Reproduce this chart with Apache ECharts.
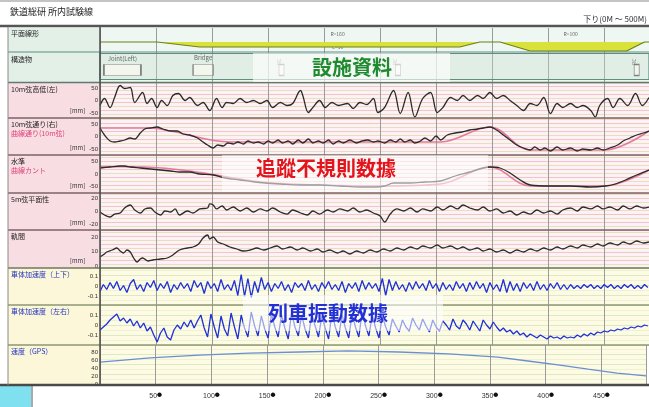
<!DOCTYPE html>
<html><head><meta charset="utf-8">
<script src="https://cdn.jsdelivr.net/npm/echarts@6/dist/echarts.min.js"></script>
<style>html,body{margin:0;padding:0;background:#fff}#c{width:649px;height:407px}</style>
</head><body><div id="c"></div>
<script>
// ================= DATA =================
// distance axis ticks (m)
const distTicks = [50,100,150,200,250,300,350,400,450];
// 平面線形 (curve offset indicator): [distance, value]
const curveAlign = [[0,0],[51,0],[89,-5],[321,-5],[339,0],[357,0],[384,-9],[470,-9],[486,0],[490,0]];
const curveLabels = [[212,'R=160','C=50'],[420,'R=100','C=105']];
// 構造物
const structures = [[20,'Joint(Left)','joint'],[92,'Bridge','bridge'],[162,'RC','rc'],[266,'RC','rc'],[479,'RC','rc']];
// 10m弦高低(左) [distance, mm]
const levelL = [[0,-20],[4,8],[9,-28],[13,12],[18,60],[22,48],[27,52],[31,-8],[38,32],[42,-12],[46,8],[51,-28],[55,0],[60,-20],[65,20],[70,28],[76,0],[80,12],[87,-20],[92,-8],[98,-40],[104,8],[109,-28],[113,-8],[119,-12],[125,8],[131,-8],[137,0],[143,-12],[149,0],[154,-28],[161,-8],[167,-20],[172,-12],[179,40],[181,20],[186,-48],[190,-28],[196,0],[201,-28],[207,-8],[213,-20],[221,-12],[226,-32],[232,-8],[238,-16],[244,8],[248,-48],[254,-28],[262,40],[268,-52],[275,32],[281,-66],[288,8],[295,32],[301,-48],[306,-28],[313,12],[319,0],[324,20],[330,0],[337,20],[342,8],[348,32],[354,8],[360,20],[366,0],[372,-20],[378,-40],[384,-12],[390,-20],[396,12],[402,-52],[408,-12],[413,-28],[420,-12],[426,-28],[431,-20],[438,-40],[442,-66],[446,-20],[453,8],[458,-28],[464,8],[471,-20],[478,28],[484,-20],[490,12]];
// 10m弦通り(右)
const alignR = [[0,34],[4,6],[9,-18],[13,-22],[18,-18],[22,-14],[27,-6],[31,-10],[36,14],[40,30],[45,34],[51,38],[56,30],[63,22],[69,22],[74,10],[80,6],[87,-6],[92,-22],[96,-34],[101,-46],[105,-34],[110,-38],[114,-26],[119,-30],[123,-22],[128,-30],[132,-18],[137,-26],[141,-22],[146,-30],[150,-18],[154,-26],[159,-14],[163,-26],[168,-18],[172,-30],[177,-14],[181,-26],[186,-10],[190,-26],[195,-18],[199,-26],[204,-14],[208,-30],[213,-18],[217,-26],[223,-14],[229,-26],[234,-18],[239,-14],[244,-22],[248,-18],[254,-26],[259,-14],[264,-22],[268,-10],[272,-22],[277,-14],[281,-26],[286,-18],[290,-6],[295,-18],[300,2],[304,-14],[310,6],[317,14],[323,18],[330,26],[337,30],[342,34],[348,38],[354,26],[360,6],[366,-14],[372,-34],[378,-46],[384,-54],[388,-42],[393,-54],[397,-46],[402,-58],[408,-42],[413,-54],[420,-46],[426,-58],[431,-50],[438,-54],[444,-46],[449,-54],[455,-46],[462,-34],[467,-18],[473,-6],[479,6],[485,14],[490,22]];
// 曲線通り(10m弦)
const alignCurve = [[0,34],[45,34],[63,22],[116,-22],[304,-22],[348,38],[384,-54],[451,-54],[490,22]];
// 水準
const crossLevel = [[0,24],[9,28],[18,32],[22,32],[27,28],[36,24],[45,20],[54,16],[63,12],[71,8],[80,8],[89,0],[101,-4],[112,-16],[125,-24],[138,-32],[147,-36],[161,-40],[179,-44],[196,-44],[214,-48],[232,-52],[246,-52],[254,-48],[262,-36],[277,-36],[290,-32],[304,-28],[317,-8],[330,8],[342,24],[348,28],[357,24],[366,4],[375,-24],[384,-44],[402,-48],[420,-48],[438,-52],[451,-48],[460,-40],[469,-24],[479,-4],[490,16]];
// 曲線カント
const cantCurve = [[0,30],[40,28],[80,12],[140,-30],[170,-40],[250,-48],[304,-40],[348,28],[384,-48],[450,-48],[490,16]];
// 5m弦平面性
const twist5m = [[0,-0.8],[4,-5.4],[9,-8.5],[13,-3.9],[18,-2.3],[22,5.4],[27,10],[31,2.3],[36,-2.3],[40,3.9],[45,5.4],[49,-0.8],[54,-5.4],[58,0.8],[63,-0.8],[67,3.9],[71,-5.4],[78,0.8],[83,-2.3],[89,3.9],[96,5.4],[98,11.6],[101,10],[104,3.9],[109,8.5],[113,2.3],[119,6.9],[125,0.8],[131,5.4],[137,-0.8],[143,3.9],[149,0.8],[154,5.4],[161,-0.8],[167,-3.9],[172,2.3],[179,-2.3],[185,-5.4],[190,0.8],[196,-3.9],[203,2.3],[208,-0.8],[214,3.9],[221,0.8],[226,5.4],[232,-0.8],[238,2.3],[244,-2.3],[250,-6.9],[254,-16.2],[259,-3.9],[265,3.9],[271,0.8],[277,5.4],[283,-0.8],[288,3.9],[295,0.8],[301,6.9],[306,2.3],[313,8.5],[319,3.9],[324,10],[330,5.4],[337,2.3],[342,6.9],[348,0.8],[354,3.9],[360,-2.3],[366,0.8],[372,-5.4],[378,-0.8],[384,-3.9],[390,2.3],[396,-2.3],[402,0.8],[408,-3.9],[413,2.3],[420,5.4],[426,0.8],[431,6.9],[438,3.9],[444,8.5],[449,3.9],[455,6.9],[462,2.3],[467,8.5],[473,3.9],[479,8.5],[485,5.4],[490,6.9]];
// 軌間
const gauge = [[0,6.3],[4,8.4],[6,9.8],[11,11.2],[15,12.6],[18,10.5],[21,9.1],[24,11.2],[27,9.8],[30,5.6],[33,2.8],[36,4.9],[38,5.6],[43,3.5],[47,4.2],[54,4.9],[60,5.6],[65,7.7],[71,11.2],[78,12.6],[83,13.3],[88,15.4],[92,19.6],[96,21.7],[98,18.9],[101,20.3],[105,16.8],[110,15.4],[116,13.3],[122,11.9],[128,10.5],[134,11.2],[140,12.6],[146,11.2],[152,12.6],[158,14],[163,11.9],[170,13.3],[176,11.2],[181,12.6],[188,10.5],[194,11.9],[199,9.8],[205,11.2],[212,9.1],[217,10.5],[223,8.4],[229,10.5],[235,9.1],[241,11.2],[247,9.8],[253,11.9],[259,10.5],[265,12.6],[271,11.2],[277,13.3],[283,11.9],[288,14],[295,12.6],[301,14.7],[306,12.6],[313,14],[319,11.9],[324,13.3],[330,11.2],[337,12.6],[342,10.5],[348,11.9],[354,9.8],[360,11.2],[366,9.1],[372,11.2],[378,9.8],[384,11.9],[390,10.5],[396,12.6],[402,11.2],[408,13.3],[413,11.9],[420,14],[426,12.6],[431,14.7],[438,13.3],[444,15.4],[449,14],[455,16.1],[462,14.7],[467,16.8],[473,15.4],[479,17.5],[485,16.1],[490,16.8]];
// 車体加速度 sampled every accelStep m from 0
const accelStep = 3;
const accelV = [-0.05,0.02,-0.03,0.04,-0.02,0.05,-0.04,0.01,-0.06,0.03,
 0.07,-0.03,0.02,-0.05,0.04,-0.01,0.06,-0.04,0.03,-0.02,
 0.05,-0.06,0.02,-0.03,0.04,-0.02,0.03,-0.05,0.06,-0.01,
 0.04,-0.07,0.05,-0.02,0.03,-0.05,0.07,-0.03,0.02,-0.04,
 0.06,-0.09,0.12,-0.1,0.08,-0.11,0.05,-0.06,0.09,-0.03,
 0.04,-0.05,0.03,-0.02,0.05,-0.04,0.02,-0.06,0.04,-0.01,
 0.03,-0.04,0.06,-0.03,0.02,-0.05,0.04,-0.02,0.05,-0.03,
 0.02,-0.04,0.05,-0.06,0.03,-0.02,0.04,-0.05,0.06,-0.03,
 0.04,-0.02,0.03,-0.05,0.08,-0.09,0.07,-0.04,0.05,-0.03,
 0.02,-0.05,0.04,-0.03,0.05,-0.02,0.03,-0.04,0.06,-0.02,
 0.03,-0.05,0.04,-0.03,0.02,-0.04,0.05,-0.02,0.03,-0.05,
 0.04,-0.03,0.05,-0.02,0.03,-0.06,0.04,-0.03,0.02,-0.05,
 0.07,-0.06,0.05,-0.04,0.03,-0.05,0.04,-0.02,0.03,-0.04,
 0.05,-0.03,0.02,-0.04,0.03,-0.02,0.04,-0.03,0.02,-0.03,
 0.02,-0.02,0.01,-0.02,0.02,-0.01,0.02,-0.02,0.01,-0.02,
 0.02,-0.01,0.02,-0.02,0.01,-0.02,0.02,-0.01,0.02,-0.02,
 0.01,-0.02,0.02,-0.01];
const accelL = [-0.05,-0.02,0.01,0.05,0.08,0.11,0.04,0.07,0.02,0.06,
 -0.01,0.04,-0.03,0.02,-0.06,-0.02,-0.1,-0.17,-0.08,-0.03,
 -0.12,-0.15,-0.05,0.0,-0.04,0.03,-0.02,0.05,-0.03,0.04,
 0.1,-0.03,-0.12,0.11,-0.02,-0.13,0.09,-0.04,-0.11,0.12,
 -0.02,-0.14,0.1,-0.03,-0.12,0.13,-0.01,-0.11,0.09,-0.04,
 -0.13,0.11,-0.02,-0.12,0.1,-0.03,-0.14,0.12,-0.02,-0.11,
 0.1,-0.04,-0.13,0.11,-0.01,-0.12,0.09,-0.03,-0.14,0.12,
 -0.02,-0.12,0.1,-0.03,-0.13,0.11,-0.02,-0.12,0.13,-0.01,
 -0.11,0.1,-0.03,-0.13,0.09,-0.02,-0.1,0.06,-0.01,-0.07,
 0.05,-0.02,-0.06,0.07,0.0,-0.05,0.06,-0.01,-0.07,0.05,
 -0.02,-0.06,0.04,0.0,-0.05,0.06,-0.01,-0.04,0.05,0.01,
 -0.05,0.04,-0.01,-0.06,0.05,0.0,-0.04,0.03,-0.02,-0.06,
 -0.03,-0.07,-0.05,-0.09,-0.06,-0.1,-0.08,-0.12,-0.09,-0.11,
 -0.13,-0.1,-0.12,-0.14,-0.11,-0.13,-0.12,-0.14,-0.11,-0.13,
 -0.12,-0.13,-0.1,-0.12,-0.09,-0.11,-0.08,-0.1,-0.07,-0.08,
 -0.06,-0.07,-0.05,-0.06,-0.04,-0.05,-0.03,-0.04,-0.02,-0.03,
 -0.01,-0.02,0.0,-0.01];
// 速度(GPS) km/h
const speedGPS = [[0,56],[45,67],[89,74],[134,79],[179,82],[223,85],[268,82],[313,77],[357,69],[384,59],[411,49],[438,38],[464,28],[490,21]];

// ================= LAYOUT / STYLE =================
const W = 649, L = 100, XMAX = 490;
const CJK = '"Noto Sans CJK JP","Noto Sans",sans-serif';
const PINK = '#e06690', BLK = '#2a2a2a', BLUE = '#1f30d8';
const headRows = [{top:28,h:24,min:-10,max:14,label:'平面線形'},{top:52,h:30,min:0,max:30,label:'構造物'}];
const panels = [
 {top:83,h:35,min:-70,max:70,ticks:[-50,0,50],name:'10m弦高低(左)',unit:'[mm]',kind:'t',ser:[[levelL,BLK]]},
 {top:118,h:37,min:-74,max:74,ticks:[-50,0,50],name:'10m弦通り(右)',sub:'曲線通り(10m弦)',unit:'[mm]',kind:'t',ser:[[alignCurve,PINK],[alignR,BLK]]},
 {top:155,h:38,min:-76,max:76,ticks:[-50,0,50],name:'水準',sub:'曲線カント',unit:'[mm]',kind:'t',ser:[[cantCurve,PINK],[crossLevel,BLK]]},
 {top:193,h:37,min:-28.5,max:28.5,ticks:[-20,0,20],name:'5m弦平面性',unit:'[mm]',kind:'t',ser:[[twist5m,BLK]]},
 {top:230,h:38,min:-1.4,max:25.2,ticks:[0,10,20],name:'軌間',unit:'[mm]',kind:'t',ser:[[gauge,BLK]]},
 {top:268,h:37,min:-0.185,max:0.185,ticks:[-0.1,0,0.1],name:'車体加速度（上下）',kind:'v',ser:[[accelV.map((v,i)=>[i*accelStep,v]),BLUE]]},
 {top:305,h:40,min:-0.2,max:0.2,ticks:[-0.1,0,0.1],name:'車体加速度（左右）',kind:'v',ser:[[accelL.map((v,i)=>[i*accelStep,v]),BLUE]]},
 {top:345,h:39,min:0,max:100,ticks:[0,20,40,60,80],name:'速度（GPS）',kind:'v',ser:[[speedGPS,'#6b8fd0']]}
];

const grid=[], xAxis=[], yAxis=[], series=[], graphic=[];
function addX(gi, last){
  xAxis.push({type:'value',gridIndex:gi,min:0,max:XMAX,interval:50,
    axisLine:{show:false},axisTick:{show:false},
    splitLine:{show:true,lineStyle:{color:'#9b9b9b',width:1}},
    axisLabel:{show:!!last,margin:8,
      formatter:v=>distTicks.indexOf(v)>=0?('{n|'+v+'}{d|●}'):'',
      rich:{n:{fontSize:7,color:'#333',fontFamily:'Liberation Sans'},d:{fontSize:5,color:'#111',padding:[0,0,4,0]}}}});
}
// header rows
headRows.forEach((r,i)=>{
  grid.push({left:L,right:0,top:r.top,height:r.h,show:true,backgroundColor:'#eef7f2',borderWidth:0});
  addX(i,false);
  yAxis.push({type:'value',gridIndex:i,min:r.min,max:r.max,show:false,splitLine:{show:false}});
});
series.push({type:'line',xAxisIndex:0,yAxisIndex:0,data:curveAlign,showSymbol:false,silent:true,
  lineStyle:{color:'#6f7f1e',width:1.2},areaStyle:{color:'#d9e23a',opacity:1},z:3});
series.push({type:'scatter',xAxisIndex:0,yAxisIndex:0,symbolSize:0,silent:true,
  data:curveLabels.map(c=>({value:[c[0],8],name:c[1]})),
  label:{show:true,position:'inside',formatter:p=>p.name,fontSize:5,color:'#444'}});
series.push({type:'scatter',xAxisIndex:0,yAxisIndex:0,symbolSize:0,silent:true,
  data:curveLabels.map(c=>({value:[c[0],-5.5],name:c[2]})),
  label:{show:true,position:'inside',formatter:p=>p.name,fontSize:5,color:'#444'}});
// structures
series.push({type:'scatter',xAxisIndex:1,yAxisIndex:1,silent:true,z:4,
  data:structures.map(s=>({value:[s[0],12],name:s[1],
    symbol:'rect',
    symbolSize:s[2]==='joint'?[37,11]:s[2]==='bridge'?[20,11]:[5,11],
    label:s[2]==='rc'?{show:true,position:'top',distance:2,rotate:90,fontSize:5,color:'#777',formatter:p=>p.name}:
      {show:true,position:'top',distance:3,fontSize:6,color:'#444',formatter:p=>p.name}})),
  itemStyle:{color:'#f7f7ef',borderColor:'#666',borderWidth:1}});
// panels
panels.forEach((p,k)=>{
  const gi = k+2;
  const bg = p.kind==='t'?'#fcf1f3':'#fdfbe4';
  grid.push({left:L,right:0,top:p.top,height:p.h,show:true,backgroundColor:bg,borderWidth:0});
  addX(gi,k===panels.length-1);
  const mainIdx = yAxis.length;
  yAxis.push({type:'value',gridIndex:gi,min:p.min,max:p.max,
    axisLine:{show:false},axisTick:{show:false},splitLine:{show:false},
    axisLabel:{customValues:p.ticks,fontSize:6,color:'#333',margin:2,fontFamily:'Liberation Sans'}});
  yAxis.push({type:'value',gridIndex:gi,min:0,max:p.h,interval:p.kind==='t'?4:5,position:'right',
    axisLine:{show:false},axisTick:{show:false},axisLabel:{show:false},
    splitLine:{show:true,lineStyle:{width:1,color:p.kind==='t'?['#f1c3cd','#e8dfbf']:['#dde8c6','#eef2d0']}}});
  p.ser.forEach(s=>{
    series.push({type:'line',xAxisIndex:gi,yAxisIndex:mainIdx,data:s[0],showSymbol:false,silent:true,
      smooth:p.kind==='t'?0.35:0,z:s[1]===PINK?2:3,
      lineStyle:{color:s[1],width:s[1]===PINK?1.6:(p.kind==='t'?1.3:1.3),opacity:s[1]===PINK?0.85:1}});
  });
});

// ---------- decorative graphics ----------
const G = graphic;
function rect(x,y,w,h,fill,z){G.push({type:'rect',shape:{x,y,width:w,height:h},style:{fill},z:z||-1,silent:true});}
function line(x1,y1,x2,y2,c,w,z){G.push({type:'line',shape:{x1,y1,x2,y2},style:{stroke:c,lineWidth:w},z:z||5,silent:true});}
function text(x,y,t,font,fill,align,va,z){G.push({type:'text',x,y,style:{text:t,font,fill,align:align||'left',verticalAlign:va||'top'},z:z||6,silent:true});}
rect(0,0,W,2,'#c4c4c4');
text(10,7,'鉄道総研 所内試験線','9px '+CJK,'#222');
text(647,15,'下り(0M ～ 500M)','8px '+CJK,'#333','right');
rect(8,28,92,54,'#e3f0e8');
rect(8,83,92,185,'#f8dde3');
rect(8,268,92,116,'#fbf7d8');
// structure band
G.push({type:'rect',shape:{x:100,y:53.5,width:549,height:26},style:{fill:'rgba(200,220,210,0.35)',stroke:'#5f8e80',lineWidth:1.2},z:1,silent:true});
line(0,26,W,26,'#555',2.5);
line(8,52,W,52,'#5f8e80',1.2);
line(8,82.5,W,82.5,'#5f7a70',1.5);
[118,155,193,230].forEach(y=>line(8,y,W,y,'#7d6369',1.4));
line(8,268,W,268,'#6f7a5a',1.4);
line(8,305,W,305,'#8c9872',1.3);
line(8,345,W,345,'#8c9872',1.3);
line(0,385,W,385,'#4a4a4a',2.5);
line(100,27,100,385,'#4d4d4d',1.5);
line(8,27,8,385,'#8a8a8a',1);
rect(0,386,31,21,'#7fe1f0',1);
line(32,386,32,407,'#555',1);
// row / panel captions
text(11,30,headRows[0].label,'7px '+CJK,'#222');
text(11,56,headRows[1].label,'7px '+CJK,'#222');
panels.forEach(p=>{
  const col = p.kind==='t'?'#222':'#2233c0';
  text(11,p.top+3,p.name,'7px '+CJK,col);
  if(p.sub) text(11,p.top+12,p.sub,'7px '+CJK,'#e0407a');
  if(p.unit) text(70,p.top+p.h-10,p.unit,'6px '+CJK,'#333');
});
// overlay captions
rect(253,53,197,29,'rgba(255,255,255,0.62)',40);
text(352,67,'設施資料','bold 20px '+CJK,'#1f8a2e','center','middle',41);
rect(222,155,266,37,'rgba(255,255,255,0.55)',40);
text(326,168,'追蹤不規則数據','bold 20px '+CJK,'#e3141c','center','middle',41);
rect(243,295,200,36,'rgba(255,255,255,0.55)',40);
text(328,313,'列車振動数據','bold 20px '+CJK,'#2230d6','center','middle',41);

const chart = echarts.init(document.getElementById('c'),null,{renderer:'canvas'});
chart.setOption({animation:false,backgroundColor:'#ffffff',
  textStyle:{fontFamily:CJK},grid,xAxis,yAxis,series,graphic:{elements:graphic}});
</script></body></html>
